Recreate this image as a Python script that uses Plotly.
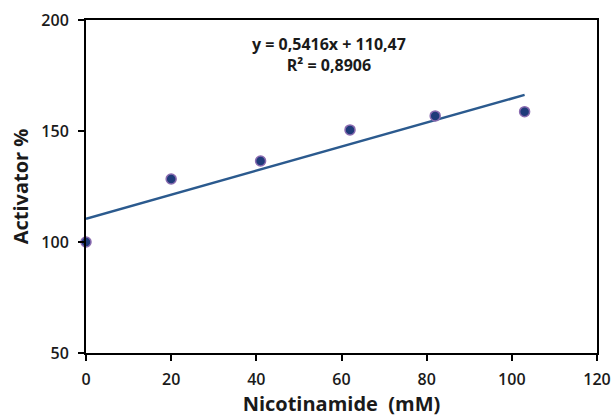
import plotly.graph_objects as go

# Nicotinamide concentration (mM) and measured activation (%)
nicotinamide_mm = [0, 20, 41, 62, 82, 103]
activator_pct = [100, 128.4, 136.5, 150.5, 156.8, 158.7]

# Linear trendline reported on the chart
slope = 0.5416
intercept = 110.47
r_squared = 0.8906

x_ticks = [0, 20, 40, 60, 80, 100, 120]
y_ticks = [50, 100, 150, 200]

font_family = "Open Sans, Liberation Sans, sans-serif"

trend_x = [min(nicotinamide_mm), max(nicotinamide_mm)]
trend_y = [slope * v + intercept for v in trend_x]

fig = go.Figure()
fig.add_trace(go.Scatter(
    x=trend_x, y=trend_y, mode="lines",
    line=dict(color="#2b5a8e", width=2.5),
    hoverinfo="skip", showlegend=False,
))
fig.add_trace(go.Scatter(
    x=nicotinamide_mm, y=activator_pct, mode="markers",
    marker=dict(size=10, color="#1f3b7a", line=dict(color="#8a6bb0", width=1.5)),
    showlegend=False, cliponaxis=False,
))

eq_text = ("<b>y = " + f"{slope:.4f}".replace(".", ",") + "x + "
           + f"{intercept:.2f}".replace(".", ",") + "</b><br><b>R² = "
           + f"{r_squared:.4f}".replace(".", ",") + "</b>")
fig.add_annotation(
    x=57, y=184.5, xref="x", yref="y", text=eq_text, showarrow=False,
    font=dict(family=font_family, size=16, color="#1a1a1a"),
    align="center",
)

axis_common = dict(
    showgrid=False, zeroline=False, automargin=False,
    showline=True, linecolor="black", linewidth=2, mirror=True,
    ticks="outside", ticklen=6, tickwidth=1.5, tickcolor="black",
    tickfont=dict(family=font_family, size=16, color="#1a1a1a", weight=600),
)

fig.update_xaxes(
    range=[0, 120], tickvals=x_ticks, ticklabelstandoff=5,
    title=dict(text="<b>Nicotinamide\u00a0\u00a0(mM)</b>",
               font=dict(family=font_family, size=20, color="#1a1a1a"), standoff=8),
    **axis_common,
)
fig.update_yaxes(
    range=[50, 200], tickvals=y_ticks, ticklabelstandoff=6,
    title=dict(text="<b>Activator %</b>",
               font=dict(family=font_family, size=20, color="#1a1a1a"), standoff=7),
    **axis_common,
)

fig.update_layout(
    width=611, height=418,
    margin=dict(l=86, r=14, t=20, b=65),
    paper_bgcolor="white", plot_bgcolor="white",
)

fig.write_html("out.html")
